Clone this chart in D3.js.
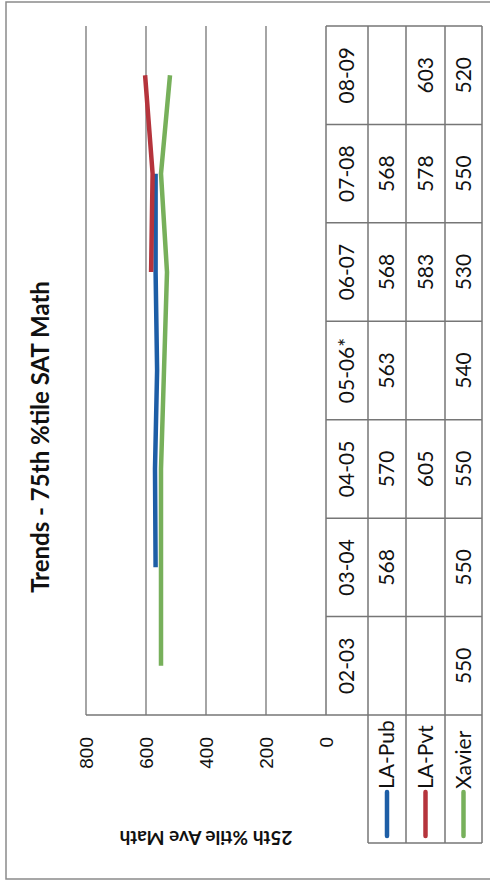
<!DOCTYPE html>
<html>
<head>
<meta charset="utf-8">
<script src="https://cdn.jsdelivr.net/npm/d3@7"></script>
<style>
  body { margin: 0; background: #fff; }
  svg { display: block; }
</style>
</head>
<body>
<script>

// Chart values
var categories = ["02-03", "03-04", "04-05", "05-06*", "06-07", "07-08", "08-09"];
var laPub  = [null, 568, 570, 563, 568, 568, null];
var laPvt  = [null, null, 605, null, 583, 578, 603];
var xavier = [550, 550, 550, 540, 530, 550, 520];
var seriesNames = ["LA-Pub", "LA-Pvt", "Xavier"];
var valueTicks = [0, 200, 400, 600, 800];
var chartTitle = "Trends - 75th %tile SAT Math";
var axisTitle = "25th %tile Ave Math";

var seriesValues = [laPub, laPvt, xavier];
var colors = ["#1d5ea6", "#b5343c", "#77b05b"];

// page size
var w = 490;
var h = 886;

var svg = d3.select("body")
  .append("svg")
  .attr("width", w)
  .attr("height", h);

// outer frame of the scanned page
svg.append("rect")
  .attr("x", 6)
  .attr("y", 2)
  .attr("width", 520)
  .attr("height", 877)
  .attr("fill", "none")
  .attr("stroke", "#8a8a8a")
  .attr("stroke-width", 1.5);

// the whole chart is drawn landscape then turned a quarter turn left
var chart = svg.append("g")
  .attr("transform", "translate(0," + h + ") rotate(-90)");

var gridColor = "#767676";
var font = "Lato, 'Open Sans', sans-serif";

// scales (landscape frame)
var x = d3.scaleBand()
  .domain(categories)
  .range([171, 860]);

var y = d3.scaleLinear()
  .domain([0, 800])
  .range([326, 86]);

// table rows: category labels, then one row per series
var rowEdges = [326, 368, 406, 445, 482];
var rowMid = function(i) { return (rowEdges[i] + rowEdges[i + 1]) / 2; };
var legendLeft = 43;

// gridlines
chart.selectAll("line.grid")
  .data(valueTicks.filter(function(d) { return d > 0; }))
  .enter()
  .append("line")
  .attr("class", "grid")
  .attr("x1", 171)
  .attr("x2", 860)
  .attr("y1", function(d) { return y(d); })
  .attr("y2", function(d) { return y(d); })
  .attr("stroke", gridColor)
  .attr("stroke-width", 1.3);

// value axis
var yAxis = d3.axisLeft(y)
  .tickValues(valueTicks)
  .tickSize(0)
  .tickPadding(22);

var axisG = chart.append("g")
  .attr("transform", "translate(171,0)")
  .call(yAxis);
axisG.select(".domain").remove();
axisG.selectAll("text")
  .attr("font-family", "'Liberation Sans', Arial, sans-serif")
  .attr("font-size", "19px")
  .attr("fill", "#111");

// plot border on the value side
chart.append("line")
  .attr("x1", 171).attr("x2", 171)
  .attr("y1", y(800)).attr("y2", rowEdges[4])
  .attr("stroke", gridColor)
  .attr("stroke-width", 1.5);

// data table lines
chart.append("line")
  .attr("x1", 171).attr("x2", 860)
  .attr("y1", rowEdges[0]).attr("y2", rowEdges[0])
  .attr("stroke", gridColor).attr("stroke-width", 1.5);

chart.selectAll("line.row")
  .data(rowEdges.slice(1))
  .enter()
  .append("line")
  .attr("class", "row")
  .attr("x1", legendLeft).attr("x2", 860)
  .attr("y1", function(d) { return d; })
  .attr("y2", function(d) { return d; })
  .attr("stroke", gridColor)
  .attr("stroke-width", 1.5);

chart.selectAll("line.col")
  .data(categories.slice(1).map(function(c) { return x(c); }).concat([860]))
  .enter()
  .append("line")
  .attr("class", "col")
  .attr("x1", function(d) { return d; })
  .attr("x2", function(d) { return d; })
  .attr("y1", rowEdges[0]).attr("y2", rowEdges[4])
  .attr("stroke", gridColor)
  .attr("stroke-width", 1.5);

chart.append("line")
  .attr("x1", legendLeft).attr("x2", legendLeft)
  .attr("y1", rowEdges[1]).attr("y2", rowEdges[4])
  .attr("stroke", gridColor)
  .attr("stroke-width", 1.5);

// category labels
chart.selectAll("text.cat")
  .data(categories)
  .enter()
  .append("text")
  .attr("class", "cat")
  .attr("x", function(d) { return x(d) + x.bandwidth() / 2; })
  .attr("y", rowMid(0))
  .attr("dy", "0.35em")
  .attr("text-anchor", "middle")
  .attr("font-family", font)
  .attr("font-size", "21px")
  .attr("fill", "#111")
  .text(function(d) { return d; });

// table values, one row per series (blank cells are skipped)
seriesValues.forEach(function(vals, s) {
  var cells = vals.map(function(v, i) { return { cat: categories[i], v: v }; })
    .filter(function(d) { return d.v != null; });

  chart.selectAll("text.val" + s)
    .data(cells)
    .enter()
    .append("text")
    .attr("class", "val" + s)
    .attr("x", function(d) { return x(d.cat) + x.bandwidth() / 2; })
    .attr("y", rowMid(s + 1))
    .attr("dy", "0.35em")
    .attr("text-anchor", "middle")
    .attr("font-family", font)
    .attr("font-size", "21px")
    .attr("fill", "#111")
    .text(function(d) { return d.v; });
});

// lines
var line = d3.line()
  .defined(function(d) { return d != null; })
  .x(function(d, i) { return x(categories[i]) + x.bandwidth() / 2; })
  .y(function(d) { return y(d); });

chart.selectAll("path.series")
  .data(seriesValues)
  .enter()
  .append("path")
  .attr("class", "series")
  .attr("d", line)
  .attr("fill", "none")
  .attr("stroke", function(d, i) { return colors[i]; })
  .attr("stroke-width", 4.5)
  .attr("stroke-linecap", "butt")
  .attr("stroke-linejoin", "round");

// legend keys inside the table
chart.selectAll("line.key")
  .data(seriesNames)
  .enter()
  .append("line")
  .attr("class", "key")
  .attr("x1", 50).attr("x2", 94)
  .attr("y1", function(d, i) { return rowMid(i + 1); })
  .attr("y2", function(d, i) { return rowMid(i + 1); })
  .attr("stroke", function(d, i) { return colors[i]; })
  .attr("stroke-width", 4.5)
  .attr("stroke-linecap", "round");

chart.selectAll("text.key")
  .data(seriesNames)
  .enter()
  .append("text")
  .attr("class", "key")
  .attr("x", 97)
  .attr("y", function(d, i) { return rowMid(i + 1); })
  .attr("dy", "0.35em")
  .attr("font-family", font)
  .attr("font-size", "21px")
  .attr("fill", "#111")
  .text(function(d) { return d; });

// chart title
chart.append("text")
  .attr("x", 449)
  .attr("y", 41)
  .attr("dy", "0.35em")
  .attr("text-anchor", "middle")
  .attr("font-family", font)
  .attr("font-weight", "bold")
  .attr("font-size", "24px")
  .attr("fill", "#111")
  .text(chartTitle);

// value axis title (upside down once the chart is turned)
chart.append("text")
  .attr("transform", "translate(48," + y(400) + ") rotate(-90)")
  .attr("dy", "0.35em")
  .attr("text-anchor", "middle")
  .attr("font-family", font)
  .attr("font-weight", "bold")
  .attr("font-size", "19px")
  .attr("fill", "#111")
  .text(axisTitle);

</script>
</body>
</html>
